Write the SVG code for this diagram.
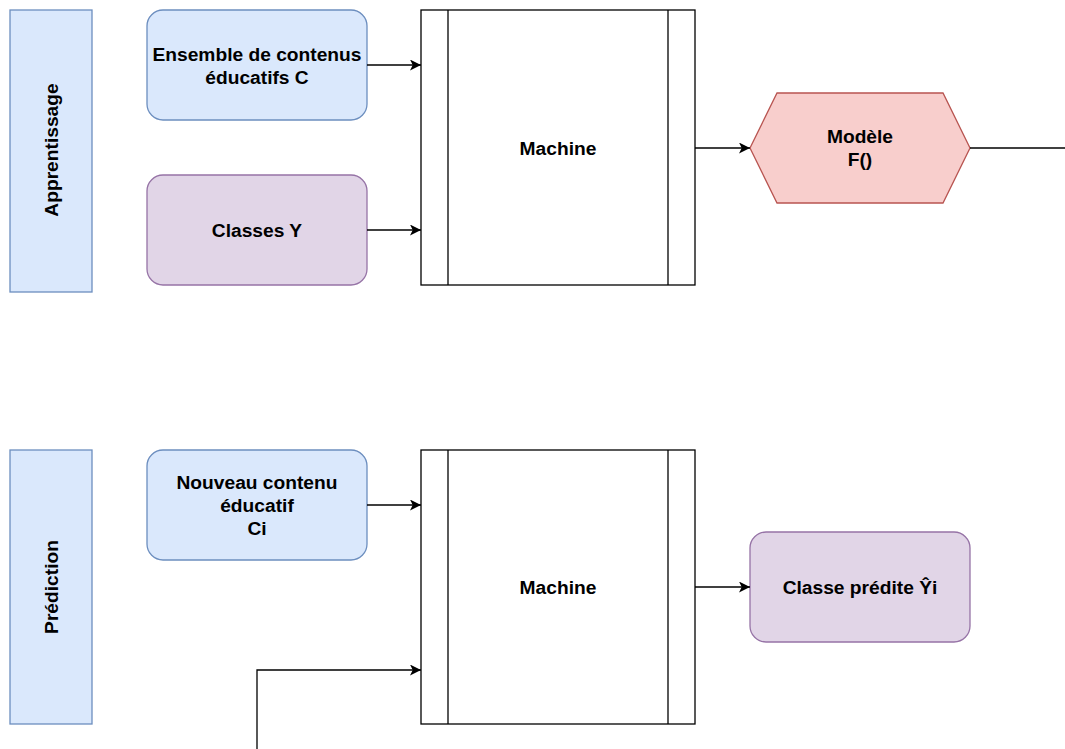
<svg xmlns="http://www.w3.org/2000/svg" width="1065" height="749" viewBox="0 0 1065 749">
<style>
.t{font-family:"Liberation Sans",Arial,sans-serif;font-weight:bold;font-size:19.2px;fill:#000;text-anchor:middle}
.blue{fill:#dae8fc;stroke:#6c8ebf;stroke-width:1.3}
.purple{fill:#e1d5e7;stroke:#9673a6;stroke-width:1.3}
.red{fill:#f8cecc;stroke:#b85450;stroke-width:1.3}
.proc{fill:#fff;stroke:#000;stroke-width:1.3}
.edge{fill:none;stroke:#000;stroke-width:1.3}
</style>
<defs>
<marker id="arr" viewBox="0 0 10 10" refX="10" refY="5" markerWidth="11" markerHeight="11" markerUnits="userSpaceOnUse" orient="auto">
<path d="M0,0 L10,5 L0,10 L2.5,5 Z" fill="#000"/>
</marker>
</defs>
<rect width="1065" height="749" fill="#fff"/>
<g id="apprentissage">
<rect class="blue" x="10" y="10" width="82" height="282"/>
<text class="t" transform="translate(57.7,150) rotate(-90)">Apprentissage</text>
</g>
<g id="ensemble">
<rect class="blue" x="147" y="10" width="220" height="110" rx="16"/>
<text class="t" x="257" y="60.5">Ensemble de contenus</text>
<text class="t" x="257" y="83.5">éducatifs C</text>
</g>
<g id="classes">
<rect class="purple" x="147" y="175" width="220" height="110" rx="16"/>
<text class="t" x="257" y="236.5">Classes Y</text>
</g>
<g id="machine1">
<rect class="proc" x="421" y="10" width="274" height="275"/>
<line class="proc" x1="448" y1="10" x2="448" y2="285"/>
<line class="proc" x1="668" y1="10" x2="668" y2="285"/>
<text class="t" x="558" y="154.5">Machine</text>
</g>
<g id="modele">
<polygon class="red" points="750,148 777,93 943,93 970,148 943,203 777,203"/>
<text class="t" x="860" y="143">Modèle</text>
<text class="t" x="860" y="166">F()</text>
</g>
<g id="prediction">
<rect class="blue" x="10" y="450" width="82" height="274"/>
<text class="t" transform="translate(57.7,587) rotate(-90)">Prédiction</text>
</g>
<g id="nouveau">
<rect class="blue" x="147" y="450" width="220" height="110" rx="16"/>
<text class="t" x="257" y="488.5">Nouveau contenu</text>
<text class="t" x="257" y="511.5">éducatif</text>
<text class="t" x="257" y="534.5">Ci</text>
</g>
<g id="machine2">
<rect class="proc" x="421" y="450" width="274" height="274"/>
<line class="proc" x1="448" y1="450" x2="448" y2="724"/>
<line class="proc" x1="668" y1="450" x2="668" y2="724"/>
<text class="t" x="558" y="593.5">Machine</text>
</g>
<g id="classepredite">
<rect class="purple" x="750" y="532" width="220" height="110" rx="16"/>
<text class="t" x="860" y="594">Classe prédite Ŷi</text>
</g>
<g id="connectors">
<path class="edge" d="M367,65 L421,65" marker-end="url(#arr)"/>
<path class="edge" d="M367,230 L421,230" marker-end="url(#arr)"/>
<path class="edge" d="M695,148 L750,148" marker-end="url(#arr)"/>
<path class="edge" d="M970,148 L1065,148"/>
<path class="edge" d="M367,505 L421,505" marker-end="url(#arr)"/>
<path class="edge" d="M695,587 L750,587" marker-end="url(#arr)"/>
<path class="edge" d="M257,749 L257,670 L421,670" marker-end="url(#arr)"/>
</g>
</svg>
